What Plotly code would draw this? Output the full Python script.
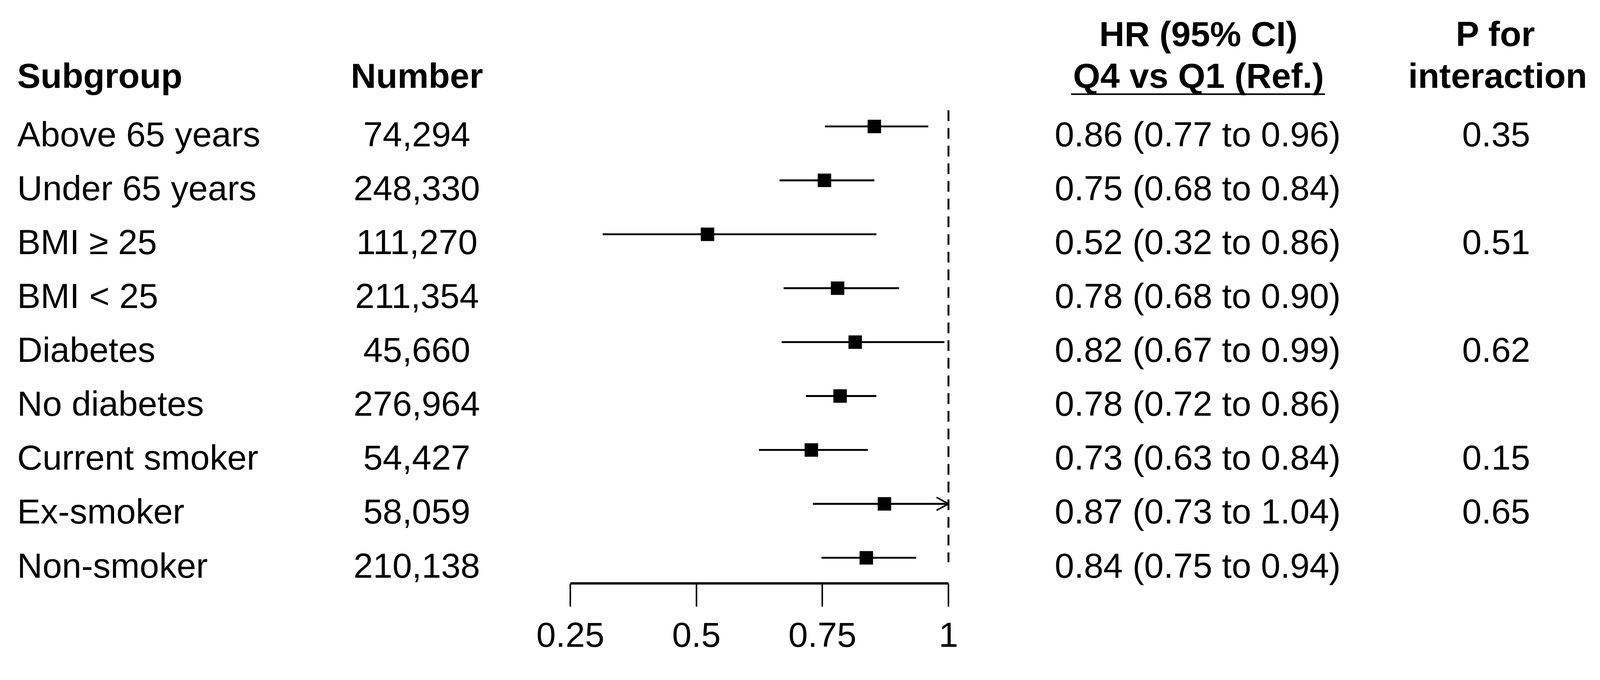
import plotly.graph_objects as go

# ---------------- data ----------------
subgroups = ["Above 65 years", "Under 65 years", "BMI \u2265 25", "BMI < 25", "Diabetes",
             "No diabetes", "Current smoker", "Ex-smoker", "Non-smoker"]
numbers = ["74,294", "248,330", "111,270", "211,354", "45,660", "276,964", "54,427", "58,059", "210,138"]
hr = [0.853, 0.754, 0.522, 0.780, 0.815, 0.785, 0.728, 0.873, 0.837]
ci_low = [0.755, 0.665, 0.314, 0.673, 0.669, 0.717, 0.624, 0.731, 0.748]
ci_high = [0.960, 0.853, 0.857, 0.902, 0.992, 0.857, 0.840, 1.04, 0.936]
hr_text = ["0.86 (0.77 to 0.96)", "0.75 (0.68 to 0.84)", "0.52 (0.32 to 0.86)", "0.78 (0.68 to 0.90)",
           "0.82 (0.67 to 0.99)", "0.78 (0.72 to 0.86)", "0.73 (0.63 to 0.84)", "0.87 (0.73 to 1.04)",
           "0.84 (0.75 to 0.94)"]
p_interaction = ["0.35", "", "0.51", "", "0.62", "", "0.15", "0.65", ""]
tick_vals = [0.25, 0.5, 0.75, 1.0]
tick_text = ["0.25", "0.5", "0.75", "1"]

# ---------------- layout constants (reference pixels) ----------------
REF_W, REF_H = 4160, 1742
K = 4096 / 4160                      # page-to-picture scale of the capture
W, H = 4096, round(REF_H * K)
X_LO_PX, X_HI_PX = 1483, 2466        # reference pixel of 0.25 and 1.0
XMIN, XMAX = 0.25, 1.0
PXU = (X_HI_PX - X_LO_PX) / (XMAX - XMIN)
XPAD = 0.012
ROW0_PX, ROW_STEP = 329, 140.3
AXIS_PX = 1518
TEXT_SHIFT_PX = 20
FONT = "Liberation Sans"
FS = 91 * K

def py(px):
    return (px - ROW0_PX) / ROW_STEP

def fx(px):
    return px / REF_W

def fy(px):
    return 1 - px / REF_H

n = len(subgroups)
rows = list(range(n))

fig = go.Figure()

# CI lines
cx, cy = [], []
for i in rows:
    cx += [max(ci_low[i], XMIN), min(ci_high[i], XMAX), None]
    cy += [i, i, None]
fig.add_trace(go.Scatter(x=cx, y=cy, mode="lines", line=dict(color="black", width=5 * K),
                         hoverinfo="skip", showlegend=False))

# arrow heads for truncated CIs
ax_, ay_ = [], []
for i in rows:
    if ci_high[i] > XMAX:
        dx = 31 / PXU
        dy = 17 / ROW_STEP
        ax_ += [XMAX - dx, XMAX, XMAX - dx, None]
        ay_ += [i - dy, i, i + dy, None]
if ax_:
    fig.add_trace(go.Scatter(x=ax_, y=ay_, mode="lines", line=dict(color="black", width=4 * K),
                             hoverinfo="skip", showlegend=False))

# point estimates
fig.add_trace(go.Scatter(x=hr, y=rows, mode="markers",
                         marker=dict(symbol="square", size=35 * K, color="black", line=dict(width=0)),
                         cliponaxis=False, hoverinfo="skip", showlegend=False))

# reference line at 1
fig.add_shape(type="line", xref="x", yref="y", x0=1.0, x1=1.0, y0=py(287), y1=py(1463),
              line=dict(color="black", width=5 * K, dash="%.1fpx,%.1fpx" % (28 * K, 18 * K)))
# axis baseline from 0.25 to 1
fig.add_shape(type="line", xref="x", yref="paper", x0=XMIN, x1=XMAX,
              y0=fy(AXIS_PX), y1=fy(AXIS_PX), line=dict(color="black", width=6 * K))

ann = []
def txt(text, xpx, y, anchor, yref="y"):
    ann.append(dict(text=text, x=fx(xpx), xref="paper", y=y, yref=yref, xanchor=anchor,
                    yanchor="middle", showarrow=False, font=dict(family=FONT, size=FS, color="black")))

for i in rows:
    yt = i + TEXT_SHIFT_PX / ROW_STEP
    txt(subgroups[i], 43, yt, "left")
    txt(numbers[i], 1084, yt, "center")
    txt(hr_text[i], 3114, yt, "center")
    if p_interaction[i]:
        txt(p_interaction[i], 3890, yt, "center")

# headers
y2 = py(197)
y1 = py(88)
txt("<b>Subgroup</b>", 43, y2, "left")
txt("<b>Number</b>", 1084, y2, "center")
txt("<b>HR (95% CI)</b>", 3116, y1, "center")
txt("<b>Q4 vs Q1 (Ref.)</b>", 3116, y2, "center")
txt("<b>P for</b>", 3888, y1, "center")
txt("<b>interaction</b>", 3894, y2, "center")

fig.add_shape(type="line", xref="paper", yref="paper", x0=fx(2785), x1=fx(3445),
              y0=fy(245), y1=fy(245), line=dict(color="black", width=4 * K))

dom_l = fx(X_LO_PX - XPAD * PXU)
dom_r = fx(X_HI_PX + XPAD * PXU)

fig.update_layout(
    template="none",
    width=W, height=H, autosize=False,
    margin=dict(l=0, r=0, t=0, b=0, pad=0, autoexpand=False),
    paper_bgcolor="white", plot_bgcolor="white",
    annotations=ann,
    xaxis=dict(domain=[dom_l, dom_r], range=[XMIN - XPAD, XMAX + XPAD], automargin=False,
               tickvals=tick_vals, ticktext=tick_text, ticks="outside", ticklen=round(60 * K),
               tickwidth=4 * K, tickcolor="black", showline=False, showgrid=False, zeroline=False,
               tickfont=dict(family=FONT, size=FS, color="black"), ticklabelstandoff=-5),
    yaxis=dict(domain=[fy(AXIS_PX), 1], range=[py(AXIS_PX), py(0)], visible=False,
               automargin=False, showgrid=False, zeroline=False),
    showlegend=False,
)

fig.write_html("out.html", config={"displayModeBar": False},
               post_script="document.body.style.margin='0px';")
